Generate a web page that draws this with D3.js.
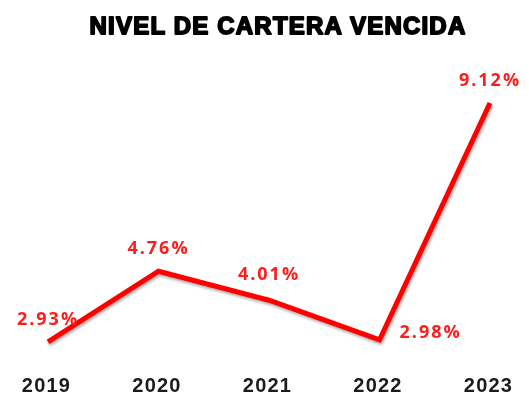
<!DOCTYPE html>
<html>
<head>
<meta charset="utf-8">
<script src="https://cdn.jsdelivr.net/npm/d3@7"></script>
<style>
  html, body { margin: 0; padding: 0; background: #fff; }
  svg { display: block; }
</style>
</head>
<body>
<svg id="chart" width="529" height="397"></svg>
<script>
// Overdue portfolio ratio by year
const years = ["2019", "2020", "2021", "2022", "2023"];
const values = [2.93, 4.76, 4.01, 2.98, 9.12];
const valueLabels = ["2.93%", "4.76%", "4.01%", "2.98%", "9.12%"];
const title = "NIVEL DE CARTERA VENCIDA";

const svg = d3.select("#chart");

const x = d3.scalePoint().domain(years).range([48, 490]);
const y = d3.scaleLinear().domain([0, 10]).range([455, 69]);

const defs = svg.append("defs");
const shadow = defs.append("filter").attr("id", "shadow")
  .attr("x", "-10%").attr("y", "-10%").attr("width", "120%").attr("height", "120%");
shadow.append("feGaussianBlur").attr("in", "SourceAlpha").attr("stdDeviation", 1.5).attr("result", "b");
shadow.append("feOffset").attr("in", "b").attr("dx", 1).attr("dy", 1.5).attr("result", "o");
shadow.append("feComponentTransfer").attr("in", "o").attr("result", "s")
  .append("feFuncA").attr("type", "linear").attr("slope", 0.35);
const m = shadow.append("feMerge");
m.append("feMergeNode").attr("in", "s");
m.append("feMergeNode").attr("in", "SourceGraphic");

const soft = defs.append("filter").attr("id", "soft");
soft.append("feGaussianBlur").attr("stdDeviation", 0.5);

// Title
svg.append("text")
  .attr("x", 278).attr("y", 34)
  .attr("text-anchor", "middle")
  .attr("font-family", "Liberation Sans, Arial, sans-serif")
  .attr("font-weight", 900)
  .attr("font-size", 24)
  .attr("letter-spacing", 1.2)
  .attr("stroke", "#000").attr("stroke-width", 1.8)
  .attr("stroke-linejoin", "round")
  .attr("fill", "#000")
  .attr("filter", "url(#soft)")
  .text(title);

// Year axis
const axis = d3.axisBottom(x).tickSize(0).tickPadding(0);
const gx = svg.append("g").attr("transform", "translate(-2,392)").call(axis);
gx.select(".domain").remove();
gx.selectAll("text")
  .attr("dy", 0)
  .attr("font-family", "Liberation Sans, Arial, sans-serif")
  .attr("font-weight", 700)
  .attr("font-size", 20)
  .attr("letter-spacing", 1.2)
  .attr("fill", "#1a1a1a")
  .attr("filter", "url(#soft)");

// Series line
const line = d3.line().x((d, i) => x(years[i])).y(d => y(d));
svg.append("path")
  .datum(values)
  .attr("d", line)
  .attr("fill", "none")
  .attr("stroke", "#ff0000")
  .attr("stroke-width", 5)
  .attr("stroke-linejoin", "miter")
  .attr("filter", "url(#shadow)");

// Value labels: above each point, except a trough followed by a rise, which sits to the right
const isTrough = (d, i) => i > 0 && i < values.length - 1 && d < values[i - 1] && d < values[i + 1];
svg.append("g").selectAll("text")
  .data(values)
  .join("text")
  .attr("x", (d, i) => isTrough(d, i) ? x(years[i]) + 20 : x(years[i]))
  .attr("y", (d, i) => isTrough(d, i) ? y(d) - 2 : y(d) - (i === 2 ? 20 : 17))
  .attr("text-anchor", (d, i) => isTrough(d, i) ? "start" : "middle")
  .attr("font-family", "Open Sans, Liberation Sans, sans-serif")
  .attr("font-weight", 700)
  .attr("font-size", 18)
  .attr("letter-spacing", 2)
  .attr("fill", "#ff1f1f")
  .attr("filter", "url(#soft)")
  .text((d, i) => valueLabels[i]);
</script>
</body>
</html>
